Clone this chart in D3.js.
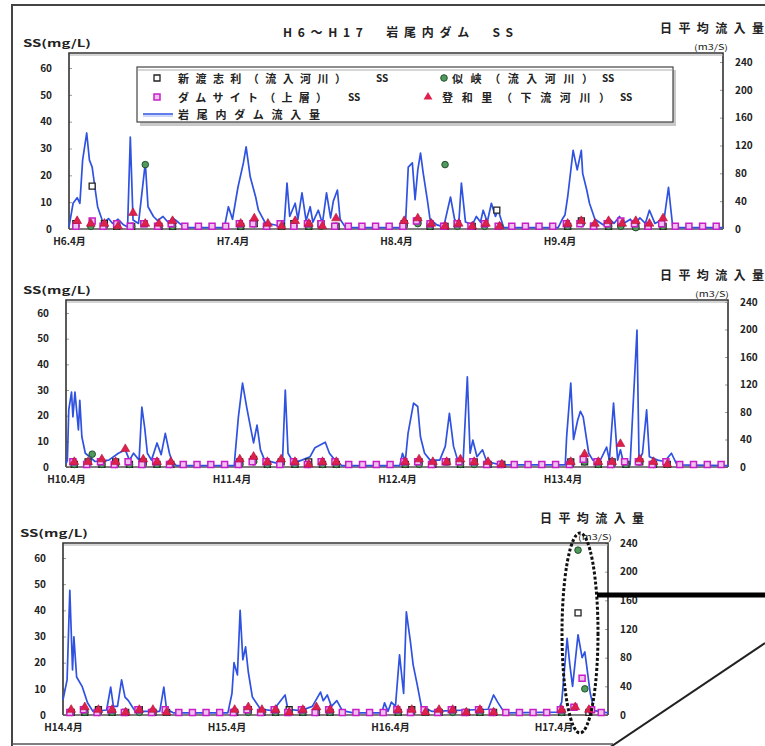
<!DOCTYPE html>
<html>
<head>
<meta charset="utf-8">
<script src="https://cdn.jsdelivr.net/npm/d3@7"></script>
<style>
  body { margin: 0; background: #fff; }
  svg text { font-family: "Noto Sans CJK JP", sans-serif; fill: #222; }
</style>
</head>
<body>
<div class="chart"></div>
<script>
// daily mean inflow (m3/s), [months since April of first year, value]
var flowH6 = [[0,3],[0.3,37],[0.6,45],[0.8,37],[1.0,99],[1.3,138],[1.5,99],[1.7,89],[1.9,60],[2.1,32],[2.5,9],
  [2.9,15],[3.2,8],[3.6,14],[4.0,6],[4.3,3],[4.5,132],[4.7,13],[5.1,8],[5.6,95],[5.8,32],[6.2,18],[6.5,12],
  [6.9,18],[7.3,9],[7.6,16],[8.0,10],[8.5,2],[11.4,2],[11.7,32],[12.0,14],[12.2,37],[12.4,60],[12.8,95],
  [13.0,118],[13.3,75],[13.7,46],[13.9,27],[14.4,9],[15.3,5],[15.8,8],[16.0,66],[16.2,18],[16.6,37],[16.8,14],
  [17.1,52],[17.4,12],[17.7,32],[17.9,10],[18.3,27],[18.6,8],[18.9,52],[19.2,16],[19.4,40],[19.7,56],[19.9,14],
  [20.3,2],[24.5,2],[24.7,8],[24.9,89],[25.2,95],[25.4,42],[25.6,85],[25.8,109],[26.0,80],[26.3,42],[26.5,14],
  [27.0,6],[27.5,3],[28.0,46],[28.3,14],[28.6,6],[28.8,66],[29.1,10],[29.6,6],[29.9,18],[30.2,10],[30.4,27],
  [30.7,10],[31.0,37],[31.3,18],[31.5,27],[31.9,2],[35.9,2],[36.2,14],[36.4,20],[36.6,46],[37.0,113],[37.3,85],
  [37.6,113],[37.7,80],[38.0,56],[38.2,37],[38.6,14],[39.2,6],[39.7,14],[40.0,8],[40.4,18],[40.7,8],[41.2,14],
  [41.5,6],[41.9,16],[42.3,8],[42.6,27],[43.0,8],[43.4,12],[43.6,3],[44.0,60],[44.3,5],[44.8,2],[48,2]];

var flowH10 = [[0,5],[0.1,10],[0.2,83],[0.4,109],[0.5,73],[0.65,109],[0.9,54],[1.0,97],[1.15,44],[1.4,20],
  [1.7,15],[2.1,8],[3.1,10],[3.8,20],[4.3,25],[4.6,10],[4.9,20],[5.3,10],[5.5,87],[5.7,58],[5.9,20],[6.2,10],
  [6.6,35],[6.9,18],[7.2,49],[7.5,20],[7.7,8],[8.0,2],[12.2,2],[12.25,15],[12.5,73],[12.8,122],[13.1,87],
  [13.3,66],[13.6,35],[13.85,61],[14.1,25],[14.4,10],[15.2,6],[15.7,10],[15.9,112],[16.1,20],[16.5,6],[17.1,10],
  [17.7,15],[18.05,28],[18.8,36],[19.1,20],[19.5,10],[20.0,2],[24.2,2],[24.4,20],[24.6,8],[24.8,49],[25.2,93],
  [25.5,88],[25.7,44],[26.0,20],[26.4,10],[27.1,10],[27.5,30],[27.8,78],[28.1,30],[28.4,10],[28.8,10],[29.1,131],
  [29.3,20],[29.5,39],[29.8,15],[30.2,25],[30.5,8],[31.5,3],[36.2,3],[36.3,44],[36.6,122],[36.8,40],[37.1,68],
  [37.3,81],[37.5,73],[37.9,20],[38.2,10],[38.7,8],[39.2,29],[39.4,10],[39.7,93],[40.0,10],[40.2,25],[40.4,8],
  [40.9,3],[41.4,199],[41.55,10],[41.8,20],[42.1,83],[42.3,15],[42.9,10],[43.4,8],[43.9,20],[44.3,3],[48,2]];

var flowH14 = [[0,21],[0.3,49],[0.5,174],[0.7,63],[0.8,109],[1.0,53],[1.4,40],[1.8,17],[2.2,5],[3.2,7],[3.5,39],
  [3.7,12],[4.0,12],[4.3,49],[4.55,25],[4.8,20],[5.0,14],[5.3,5],[7.1,5],[7.4,39],[7.6,8],[8.1,3],[12.1,3],
  [12.4,30],[12.55,73],[12.8,56],[13.0,146],[13.2,77],[13.4,95],[13.6,60],[13.9,25],[14.5,8],[15.4,6],[16.3,28],
  [16.5,8],[17.4,6],[18.3,12],[18.9,32],[19.1,20],[19.4,28],[19.7,12],[20.1,20],[20.5,6],[21.3,3],[23.4,3],
  [23.6,17],[23.85,5],[24.1,18],[24.4,12],[24.7,84],[25.0,30],[25.2,144],[25.5,102],[25.7,70],[26.0,42],
  [26.3,12],[27.1,5],[31.2,8],[31.6,28],[31.9,18],[32.1,12],[32.4,3],[36.3,4],[36.6,18],[37.0,107],[37.2,70],
  [37.4,40],[37.8,112],[38.1,80],[38.3,88],[38.7,30],[39.0,6],[40,3]];

// SS (mg/L) samples, [months since April of first year, value]
var shintoH6 = [[0.5,2],[1.7,16],[2.6,2],[3.5,1],[4.6,1],[5.5,2],[6.6,1],[7.6,1],
  [12.6,1],[13.6,2],[14.5,1],[15.6,1],[16.5,2],[17.6,1],[18.5,2],[19.6,1],
  [24.6,2],[25.6,3],[26.5,1],[27.6,1],[28.5,2],[29.6,1],[30.5,2],[31.4,7],
  [36.6,1],[37.6,3],[38.5,1],[39.6,1],[40.5,2],[41.6,1],[42.5,1],[43.6,1]];
var nikyoH6 = [[0.5,1],[1.6,1],[2.6,1],[3.5,1],[4.6,1],[5.6,24],[6.6,1],[7.6,1],
  [12.6,1],[13.6,2],[14.5,1],[15.6,1],[16.5,1],[17.6,1],[18.5,1],[19.6,1],
  [24.6,1],[25.6,2],[26.5,1],[27.6,24],[28.5,1],[29.6,1],[30.5,1],[31.6,1],
  [36.6,1],[37.6,2],[38.5,1],[39.6,1],[40.5,1],[41.6,0.5],[42.5,1],[43.6,1]];
var damH6 = [[0.5,1],[1.7,3],[2.5,1],[3.5,2],[4.5,1],[5.5,2],[6.5,1],[7.5,2],[8.5,1],[9.5,1],[10.5,1],[11.5,1],
  [12.5,2],[13.5,2],[14.5,1],[15.5,2],[16.5,1],[17.5,2],[18.5,2],[19.5,1],[20.5,1],[21.5,1],[22.5,1],[23.5,1],
  [24.5,1],[25.5,3],[26.5,2],[27.5,1],[28.5,2],[29.5,1],[30.5,2],[31.5,1],[32.5,1],[33.5,1],[34.5,1],[35.5,1],
  [36.5,2],[37.5,2],[38.5,1],[39.5,2],[40.5,3],[41.5,2],[42.5,1],[43.5,2],[44.5,1],[45.5,1],[46.5,1],[47.5,1]];
var towariH6 = [[0.6,3],[1.6,2],[2.6,2],[3.6,1],[4.7,6],[5.6,2],[6.6,2],[7.6,3],
  [12.6,2],[13.6,4],[14.6,2],[15.6,1],[16.6,3],[17.6,2],[18.6,1],[19.6,4],
  [24.6,3],[25.6,4],[26.6,2],[27.6,1],[28.6,2],[29.6,1],[30.6,2],[31.6,1],
  [36.6,2],[37.6,3],[38.6,2],[39.6,3],[40.6,2],[41.6,3],[42.6,2],[43.6,4]];

var shintoH10 = [[0.6,1],[1.6,2],[2.6,1],[3.6,2],[4.6,1],[5.6,2],[6.6,1],[7.6,1],
  [12.6,2],[13.6,3],[14.6,1],[15.6,2],[16.6,1],[17.6,2],[18.6,1],[19.6,1],
  [24.6,1],[25.6,2],[26.6,1],[27.6,2],[28.6,1],[29.6,2],[30.6,1],[31.6,1],
  [36.6,2],[37.6,2],[38.6,1],[39.6,2],[40.6,1],[41.6,2],[42.6,1],[43.6,1]];
var nikyoH10 = [[0.6,1],[1.9,5],[2.6,1],[3.6,1],[4.6,1],[5.6,1],[6.6,1],[7.6,1],
  [12.6,1],[13.6,2],[14.6,1],[15.6,2],[16.6,1],[17.6,1],[18.6,1],[19.6,1],
  [24.6,1],[25.6,1],[26.6,1],[27.6,2],[28.6,1],[29.6,1],[30.6,1],[31.6,1],
  [36.6,1],[37.6,2],[38.6,1],[39.6,1],[40.6,1],[41.6,2],[42.6,1],[43.6,1]];
var damH10 = [[0.5,2],[1.5,1],[2.5,2],[3.5,1],[4.5,2],[5.5,1],[6.5,2],[7.5,1],[8.5,1],[9.5,1],[10.5,1],[11.5,1],
  [12.5,1],[13.5,2],[14.5,2],[15.5,1],[16.5,2],[17.5,1],[18.5,2],[19.5,2],[20.5,1],[21.5,1],[22.5,1],[23.5,1],
  [24.5,2],[25.5,2],[26.5,1],[27.5,2],[28.5,2],[29.5,2],[30.5,1],[31.5,1],[32.5,1],[33.5,1],[34.5,1],[35.5,1],
  [36.5,1],[37.5,3],[38.5,2],[39.5,1],[40.5,2],[41.5,2],[42.5,1],[43.5,2],[44.5,1],[45.5,1],[46.5,1],[47.5,1]];
var towariH10 = [[0.6,2],[1.6,2],[2.6,3],[3.6,2],[4.3,7],[5.6,3],[6.6,2],[7.6,2],
  [12.6,3],[13.6,4],[14.6,2],[15.6,3],[16.6,2],[17.6,1],[18.6,2],[19.6,2],
  [24.6,2],[25.6,3],[26.6,2],[27.6,2],[28.6,3],[29.6,2],[30.6,2],[31.6,1],
  [36.6,2],[37.6,5],[38.6,2],[39.6,2],[40.2,9],[41.6,3],[42.6,2],[43.6,1]];

var shintoH14 = [[0.6,1],[1.6,1],[2.6,2],[3.6,1],[4.6,1],[5.6,2],[6.6,1],[7.6,1],
  [12.6,1],[13.6,2],[14.6,1],[15.6,1],[16.6,2],[17.6,1],[18.6,1],[19.6,1],
  [24.6,1],[25.6,2],[26.6,1],[27.6,1],[28.6,2],[29.6,1],[30.6,1],[31.6,1],
  [36.6,1],[37.8,39],[38.6,1]];
var nikyoH14 = [[0.6,1],[1.6,1],[2.6,1],[3.6,1],[4.6,1],[5.6,1],[6.6,1],[7.6,1],
  [12.6,1],[13.6,1],[14.6,1],[15.6,1],[16.6,1],[17.6,1],[18.6,1],[19.6,1],
  [24.6,1],[25.6,1],[26.6,1],[27.6,1],[28.6,1],[29.6,1],[30.6,1],[31.6,1],
  [36.6,1],[37.8,63],[38.3,10]];
var damH14 = [[0.5,1],[1.5,2],[2.5,1],[3.5,2],[4.5,1],[5.5,2],[6.5,1],[7.5,2],[8.5,1],[9.5,1],[10.5,1],[11.5,1],
  [12.5,1],[13.5,2],[14.5,1],[15.5,2],[16.5,1],[17.5,2],[18.5,1],[19.5,2],[20.5,1],[21.5,1],[22.5,1],[23.5,1],
  [24.5,2],[25.5,1],[26.5,2],[27.5,1],[28.5,2],[29.5,1],[30.5,2],[31.5,1],[32.5,1],[33.5,1],[34.5,1],[35.5,1],
  [36.5,2],[37.5,3],[38.1,14],[38.8,2],[39.5,1]];
var towariH14 = [[0.6,2],[1.6,3],[2.6,2],[3.6,2],[4.6,1],[5.6,2],[6.6,2],[7.6,1],
  [12.6,2],[13.6,3],[14.6,2],[15.6,2],[16.6,1],[17.6,2],[18.6,3],[19.6,2],
  [24.6,2],[25.6,2],[26.6,1],[27.6,2],[28.6,2],[29.6,1],[30.6,2],[31.6,1],
  [36.6,2],[37.6,3],[38.6,2]];

var yLeftTicks = [0, 10, 20, 30, 40, 50, 60];
var yRightTicks = [0, 40, 80, 120, 160, 200, 240];
var yearStarts = [6, 10, 14];

var panels = [
  { left: 69, right: 723, top: 53, zero: 229, y60: 68, y240: 62, months: 48, years: 4,
    flow: flowH6, shinto: shintoH6, nikyo: nikyoH6, dam: damH6, towari: towariH6,
    unitX: 694, unitHead: 660, headY: 33, ssX: 23 },
  { left: 66, right: 728, top: 300, zero: 467, y60: 313, y240: 302, months: 48, years: 4,
    flow: flowH10, shinto: shintoH10, nikyo: nikyoH10, dam: damH10, towari: towariH10,
    unitX: 695, unitHead: 660, headY: 280, ssX: 23 },
  { left: 63, right: 608, top: 543, zero: 715, y60: 558, y240: 543, months: 40, years: 4,
    flow: flowH14, shinto: shintoH14, nikyo: nikyoH14, dam: damH14, towari: towariH14,
    unitX: 578, unitHead: 540, headY: 523, ssX: 20 }
];

var svg = d3.select('.chart').append('svg')
  .attr('width', 765)
  .attr('height', 746);

var sq = d3.symbol().type(d3.symbolSquare).size(36);
var circ = d3.symbol().type(d3.symbolCircle).size(34);
var tri = d3.symbol().type(d3.symbolTriangle).size(34);

// outer frame of the slide figure
svg.append('path')
  .attr('d', 'M765,5 H12 V746')
  .attr('fill', 'none').attr('stroke', '#444').attr('stroke-width', 2);
svg.append('path')
  .attr('d', 'M12,744 H613')
  .attr('fill', 'none').attr('stroke', '#555').attr('stroke-width', 1.5);

function drawPanel(p, i) {
  var g = svg.append('g').attr('class', 'panel');
  var start = yearStarts[i];

  var x = d3.scaleLinear().domain([0, p.months]).range([p.left, p.right]);
  var yL = d3.scaleLinear().domain([0, 60]).range([p.zero, p.y60]);
  var yR = d3.scaleLinear().domain([0, 240]).range([p.zero, p.y240]);

  // left axis
  var axL = g.append('g').attr('transform', 'translate(' + p.left + ',0)')
    .call(d3.axisLeft(yL).tickValues(yLeftTicks).tickSize(-3).tickPadding(17));
  axL.select('.domain').remove();
  axL.selectAll('line').attr('stroke', '#999');
  axL.selectAll('text').style('font-size', '10px').style('font-weight', 'bold').attr('fill', '#333');

  // right axis
  var axR = g.append('g').attr('transform', 'translate(' + p.right + ',0)')
    .call(d3.axisRight(yR).tickValues(yRightTicks).tickSize(-3).tickPadding(12));
  axR.select('.domain').remove();
  axR.selectAll('line').attr('stroke', '#999');
  axR.selectAll('text').style('font-size', '10px').style('font-weight', 'bold').attr('fill', '#333');

  // year labels
  var yearTicks = d3.range(p.years).map(function(k) { return k * 12; });
  var axX = g.append('g').attr('transform', 'translate(0,' + p.zero + ')')
    .call(d3.axisBottom(x).tickValues(yearTicks).tickSize(0).tickPadding(9)
      .tickFormat(function(d) { return 'H' + (start + d / 12) + '.4月'; }));
  axX.select('.domain').remove();
  axX.selectAll('text').style('font-size', '10px').style('font-weight', 'bold').attr('fill', '#333');

  // plot frame
  g.append('path')
    .attr('d', 'M' + p.left + ',' + p.zero + ' V' + p.top + ' H' + p.right + ' V' + p.zero)
    .attr('fill', 'none').attr('stroke', '#333').attr('stroke-width', 1.6);
  g.append('line')
    .attr('x1', p.left + 1).attr('x2', p.right)
    .attr('y1', p.top + 2).attr('y2', p.top + 2)
    .attr('stroke', '#aaa').attr('stroke-width', 1);
  g.append('line')
    .attr('x1', p.left).attr('x2', p.right)
    .attr('y1', p.zero).attr('y2', p.zero)
    .attr('stroke', '#555').attr('stroke-width', 1.5);

  // inflow line
  var line = d3.line()
    .x(function(d) { return x(d[0]); })
    .y(function(d) { return yR(d[1]); });
  g.append('path')
    .datum(p.flow)
    .attr('d', line)
    .attr('fill', 'none')
    .attr('stroke', '#2f52e0')
    .attr('stroke-width', 1.7)
    .attr('stroke-linejoin', 'round');

  function tr(d) { return 'translate(' + x(d[0]) + ',' + yL(d[1]) + ')'; }

  g.append('g').selectAll('path').data(p.shinto).enter().append('path')
    .attr('d', sq).attr('transform', tr)
    .attr('fill', '#fff').attr('stroke', '#222').attr('stroke-width', 1.3);
  g.append('g').selectAll('path').data(p.nikyo).enter().append('path')
    .attr('d', circ).attr('transform', tr)
    .attr('fill', '#4f9a5c').attr('stroke', '#24502c').attr('stroke-width', 1);
  g.append('g').selectAll('path').data(p.dam).enter().append('path')
    .attr('d', sq).attr('transform', tr)
    .attr('fill', '#eec4ee').attr('stroke', '#c81ec8').attr('stroke-width', 1.5);
  g.append('g').selectAll('path').data(p.towari).enter().append('path')
    .attr('d', tri).attr('transform', tr)
    .attr('fill', '#e0204c').attr('stroke', '#b0103a').attr('stroke-width', 0.6);

  // axis headings
  g.append('text').attr('x', p.ssX).attr('y', p.top - 6)
    .attr('textLength', 68).attr('lengthAdjust', 'spacingAndGlyphs')
    .style('font-size', '10px').style('font-weight', 'bold').text('SS(mg/L)');
  g.append('text').attr('x', p.unitHead).attr('y', p.headY)
    .attr('textLength', 104).attr('lengthAdjust', 'spacing')
    .style('font-size', '12px').style('font-weight', 'bold').text('日平均流入量');
  g.append('text').attr('x', p.unitX).attr('y', p.top - 3)
    .attr('textLength', 34).attr('lengthAdjust', 'spacingAndGlyphs')
    .style('font-size', '8px').text('(m3/S)');
}

panels.forEach(drawPanel);

// title
svg.append('text').attr('x', 283).attr('y', 37)
  .attr('textLength', 230).attr('lengthAdjust', 'spacing')
  .style('font-size', '12px').style('font-weight', 'bold')
  .text('H6～H17　岩尾内ダム　SS');

// legend of the first panel
var lg = svg.append('g').attr('class', 'legend');
lg.append('rect').attr('x', 140).attr('y', 70).attr('width', 536).attr('height', 56)
  .attr('fill', '#c8c8c8');
lg.append('rect').attr('x', 137).attr('y', 67).attr('width', 536).attr('height', 55)
  .attr('fill', '#fff').attr('stroke', '#444').attr('stroke-width', 1.2);
lg.append('line').attr('x1', 137).attr('x2', 673).attr('y1', 70).attr('y2', 70)
  .attr('stroke', '#999').attr('stroke-width', 0.8);

var legendItems = [
  { shape: 'shinto', mx: 157, my: 78, label: '新渡志利（流入河川）', lx: 178, lw: 168, sx: 376 },
  { shape: 'nikyo', mx: 444, my: 78, label: '似峡（流入河川）', lx: 452, lw: 141, sx: 602 },
  { shape: 'dam', mx: 157, my: 97, label: 'ダムサイト（上層）', lx: 178, lw: 149, sx: 348 },
  { shape: 'towari', mx: 428, my: 97, label: '登和里（下流河川）', lx: 442, lw: 168, sx: 620 }
];
legendItems.forEach(function(d) {
  var m = lg.append('path').attr('transform', 'translate(' + d.mx + ',' + d.my + ')');
  if (d.shape === 'shinto') m.attr('d', sq).attr('fill', '#fff').attr('stroke', '#222').attr('stroke-width', 1.3);
  if (d.shape === 'nikyo') m.attr('d', circ).attr('fill', '#4f9a5c').attr('stroke', '#24502c');
  if (d.shape === 'dam') m.attr('d', sq).attr('fill', '#eec4ee').attr('stroke', '#c81ec8').attr('stroke-width', 1.5);
  if (d.shape === 'towari') m.attr('d', tri).attr('fill', '#e0204c');
  lg.append('text').attr('x', d.lx).attr('y', d.my + 5)
    .attr('textLength', d.lw).attr('lengthAdjust', 'spacing')
    .style('font-size', '11px').style('font-weight', 'bold').text(d.label);
  lg.append('text').attr('x', d.sx).attr('y', d.my + 4)
    .style('font-size', '10px').style('font-weight', 'bold').text('SS');
});
lg.append('line').attr('x1', 143).attr('x2', 173).attr('y1', 114).attr('y2', 114)
  .attr('stroke', '#2f52e0').attr('stroke-width', 1.5);
lg.append('line').attr('x1', 143).attr('x2', 173).attr('y1', 116).attr('y2', 116)
  .attr('stroke', '#9db0f0').attr('stroke-width', 1);
lg.append('text').attr('x', 178).attr('y', 119)
  .attr('textLength', 142).attr('lengthAdjust', 'spacing')
  .style('font-size', '11px').style('font-weight', 'bold').text('岩尾内ダム流入量');

// call-out on the H17 data
svg.append('ellipse')
  .attr('cx', 580).attr('cy', 633).attr('rx', 18).attr('ry', 100)
  .attr('fill', 'none').attr('stroke', '#111').attr('stroke-width', 3)
  .attr('stroke-dasharray', '3,2');
svg.append('line')
  .attr('x1', 597).attr('x2', 765).attr('y1', 595).attr('y2', 595)
  .attr('stroke', '#000').attr('stroke-width', 5);
svg.append('line')
  .attr('x1', 603).attr('x2', 765).attr('y1', 752).attr('y2', 643)
  .attr('stroke', '#222').attr('stroke-width', 2);
</script>
</body>
</html>
